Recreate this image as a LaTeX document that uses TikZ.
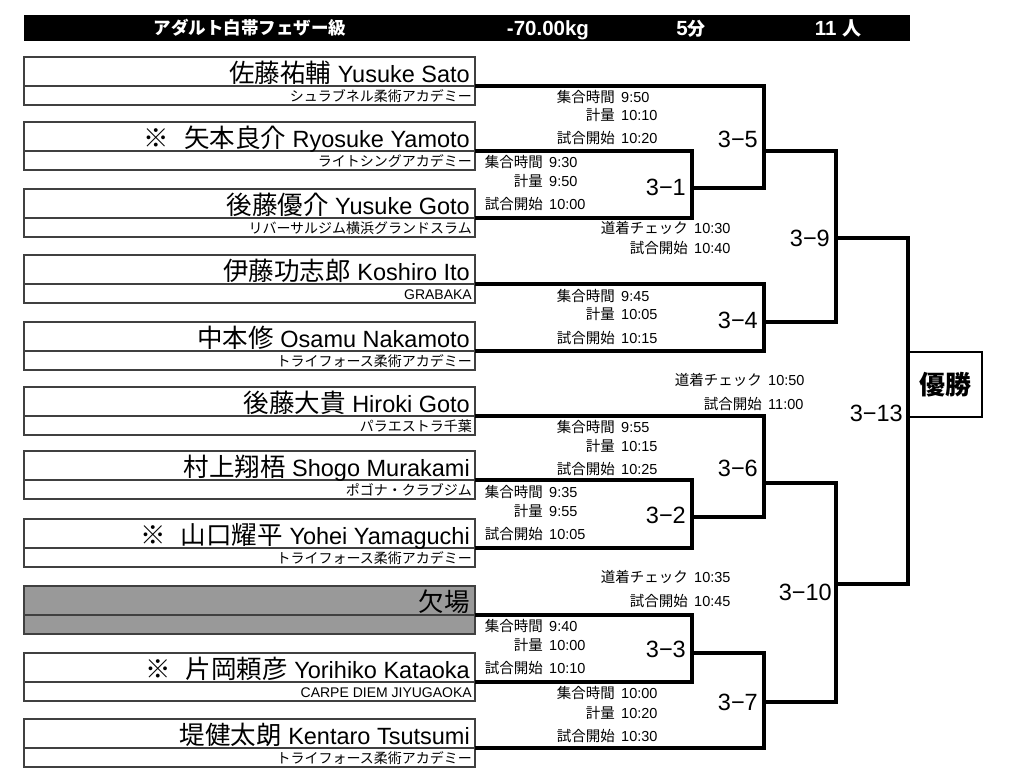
\documentclass[tikz,border=0pt]{standalone}
\usepackage{fontspec}
\setmainfont{Liberation Sans}
\newfontfamily\jp{Noto Sans CJK JP}
\newcommand{\nm}[2]{{\jp\fontsize{25.5}{28}\selectfont #1} #2}
\newcommand{\jt}[1]{{\jp #1}}
\begin{document}
\begin{tikzpicture}[x=1pt,y=-1pt,
  namebox/.style={draw=black!75,line width=1.1pt,minimum width=451pt,minimum height=29pt,inner sep=0pt,outer sep=0pt},
  teambox/.style={namebox,minimum height=19pt},
  nametext/.style={anchor=base east,inner sep=0pt,font=\fontsize{23.5}{28}\selectfont},
  teamtext/.style={anchor=base east,inner sep=0pt,font=\fontsize{14}{16}\selectfont},
  br/.style={line width=3.8pt,line join=miter},
  mlabel/.style={anchor=east,inner sep=0pt,font=\fontsize{23.5}{28}\selectfont},
  slab/.style={anchor=base east,inner sep=0pt,font=\jp\fontsize{14.5}{16}\selectfont},
  stime/.style={anchor=base west,inner sep=0pt,font=\fontsize{14.5}{16}\selectfont},
  hdr/.style={anchor=base,text=white,inner sep=0pt,font=\bfseries\fontsize{20.5}{22}\selectfont}]
\useasboundingbox (0,0) rectangle (1024,782);

% header
\node[fill=black,minimum width=886pt,minimum height=26pt,inner sep=0pt,anchor=north west] (hbar) at (24,15) {};
\node[hdr] (h1) at (250,34.5) {\jp\fontsize{17.5}{20}\selectfont アダルト白帯フェザー級};
\node[hdr] (h2) at (548,35) {-70.00kg};
\node[hdr] (h3) at (691,35) {5{\jp\fontsize{18}{20}\selectfont 分}};
\node[hdr] (h4) at (838,35) {11 {\jp\fontsize{19}{20}\selectfont 人}};

% competitors
\newcommand{\comp}[4]{%
  \node[namebox,anchor=south west] (n#1) at (24,#2) {};
  \node[teambox,anchor=north west] (t#1) at (24,#2) {};
  \node[nametext] (nt#1) at (470,#2-4) {#3};
  \node[teamtext] (tt#1) at (472,#2+15.5) {#4};
}
\comp{1}{86}{\nm{佐藤祐輔}{Yusuke Sato}}{\jt{シュラブネル柔術アカデミー}}
\comp{2}{151}{\nm{※\hspace{15pt}矢本良介}{Ryosuke Yamoto}}{\jt{ライトシングアカデミー}}
\comp{3}{218}{\nm{後藤優介}{Yusuke Goto}}{\jt{リバーサルジム横浜グランドスラム}}
\comp{4}{284}{\nm{伊藤功志郎}{Koshiro Ito}}{GRABAKA}
\comp{5}{351}{\nm{中本修}{Osamu Nakamoto}}{\jt{トライフォース柔術アカデミー}}
\comp{6}{416}{\nm{後藤大貴}{Hiroki Goto}}{\jt{パラエストラ千葉}}
\comp{7}{480}{\nm{村上翔梧}{Shogo Murakami}}{\jt{ポゴナ・クラブジム}}
\comp{8}{548}{\nm{※\hspace{15pt}山口耀平}{Yohei Yamaguchi}}{\jt{トライフォース柔術アカデミー}}
\node[namebox,fill=black!40,anchor=south west] (n9) at (24,615) {};
\node[teambox,fill=black!40,anchor=north west] (t9) at (24,615) {};
\node[nametext] (nt9) at (470,611) {\jt{\fontsize{25.5}{28}\selectfont 欠場}};
\comp{10}{682}{\nm{※\hspace{15pt}片岡頼彦}{Yorihiko Kataoka}}{CARPE DIEM JIYUGAOKA}
\comp{11}{748}{\nm{堤健太朗}{Kentaro Tsutsumi}}{\jt{トライフォース柔術アカデミー}}

% match points
\coordinate (m31) at (692,188);
\coordinate (m35) at (764,151);
\coordinate (m34) at (764,322);
\coordinate (m39) at (836,238);
\coordinate (m32) at (692,517);
\coordinate (m36) at (764,483);
\coordinate (m33) at (692,653);
\coordinate (m37) at (764,702);
\coordinate (m310) at (836,584);

% winner box
\node[draw,line width=2pt,minimum width=73pt,minimum height=65pt,inner sep=0pt,font=\jp\bfseries\fontsize{26}{30}\selectfont] (win) at (945.5,384.5) {優勝};

% brackets
\draw[br] (n2.south east) -| (m31) |- (n3.south east);
\draw[br] (n1.south east) -| (m35) |- (m31);
\draw[br] (n4.south east) -| (m34) |- (n5.south east);
\draw[br] (m35) -| (m39) |- (m34);
\draw[br] (n7.south east) -| (m32) |- (n8.south east);
\draw[br] (n6.south east) -| (m36) |- (m32);
\draw[br] (n9.south east) -| (m33) |- (n10.south east);
\draw[br] (m33) -| (m37) |- (n11.south east);
\draw[br] (m36) -| (m310) |- (m37);
\draw[br] (m39) -| (win.west) |- (m310);

% match labels
\node[mlabel] (l31) at (686,187) {3−1};
\node[mlabel] (l35) at (758,139) {3−5};
\node[mlabel] (l34) at (758,320) {3−4};
\node[mlabel] (l39) at (830,238) {3−9};
\node[mlabel] (l313) at (903,413) {3−13};
\node[mlabel] (l36) at (758,468) {3−6};
\node[mlabel] (l32) at (686,515) {3−2};
\node[mlabel] (l310) at (832,592) {3−10};
\node[mlabel] (l33) at (686,649) {3−3};
\node[mlabel] (l37) at (758,702) {3−7};

% schedules
\newcommand{\sch}[5]{%
  \node[slab] (#1l) at (#2,#3+5.5) {#4};
  \node[stime] (#1t) at (#2+6,#3+5.5) {#5};
}
\sch{sa1}{615}{97}{集合時間}{9:50}
\sch{sa2}{615}{115}{計量}{10:10}
\sch{sa3}{615}{138}{試合開始}{10:20}
\sch{sb1}{543}{162}{集合時間}{9:30}
\sch{sb2}{543}{181}{計量}{9:50}
\sch{sb3}{543}{204}{試合開始}{10:00}
\sch{sc1}{688}{228}{道着チェック}{10:30}
\sch{sc2}{688}{248}{試合開始}{10:40}
\sch{sd1}{615}{296}{集合時間}{9:45}
\sch{sd2}{615}{314}{計量}{10:05}
\sch{sd3}{615}{338}{試合開始}{10:15}
\sch{se1}{762}{380}{道着チェック}{10:50}
\sch{se2}{762}{404}{試合開始}{11:00}
\sch{sf1}{615}{427}{集合時間}{9:55}
\sch{sf2}{615}{446}{計量}{10:15}
\sch{sf3}{615}{469}{試合開始}{10:25}
\sch{sg1}{543}{492}{集合時間}{9:35}
\sch{sg2}{543}{511}{計量}{9:55}
\sch{sg3}{543}{534}{試合開始}{10:05}
\sch{sh1}{688}{577}{道着チェック}{10:35}
\sch{sh2}{688}{601}{試合開始}{10:45}
\sch{si1}{543}{626}{集合時間}{9:40}
\sch{si2}{543}{645}{計量}{10:00}
\sch{si3}{543}{668}{試合開始}{10:10}
\sch{sj1}{615}{693}{集合時間}{10:00}
\sch{sj2}{615}{713}{計量}{10:20}
\sch{sj3}{615}{736}{試合開始}{10:30}
\end{tikzpicture}
\end{document}
